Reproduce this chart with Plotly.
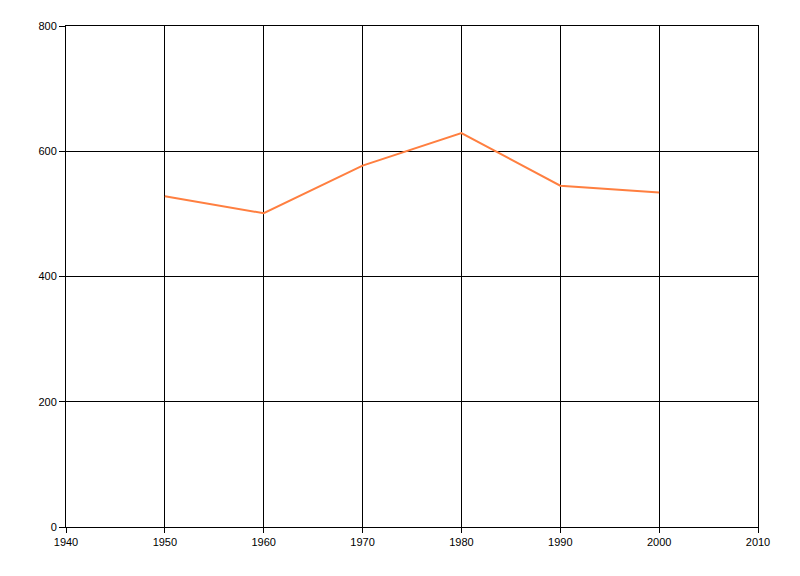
import plotly.graph_objects as go

years = [1950, 1960, 1970, 1980, 1990, 2000]
values = [528, 501, 577, 629, 545, 534]
x_ticks = [1940, 1950, 1960, 1970, 1980, 1990, 2000, 2010]
y_ticks = [0, 200, 400, 600, 800]

fig = go.Figure()
fig.add_trace(go.Scatter(
    x=years, y=values, mode="lines",
    line=dict(color="#FF7F40", width=2),
    showlegend=False,
))

fig.update_layout(
    width=800, height=576,
    margin=dict(l=58, r=50, t=18, b=57),
    paper_bgcolor="white", plot_bgcolor="white",
    font=dict(family="Liberation Sans, Arial, sans-serif", size=11, color="black"),
)
fig.update_xaxes(
    range=[1940, 2010], tickvals=x_ticks, ticktext=[str(v) for v in x_ticks],
    showgrid=True, gridcolor="black", gridwidth=1,
    showline=True, linecolor="black", linewidth=1, mirror=True,
    ticks="outside", ticklen=5, tickcolor="black", zeroline=False,
)
fig.update_yaxes(
    range=[0, 800], tickvals=y_ticks, ticktext=[str(v) for v in y_ticks],
    showgrid=True, gridcolor="black", gridwidth=1,
    showline=True, linecolor="black", linewidth=1, mirror=True,
    ticks="outside", ticklen=6, tickcolor="black", zeroline=False,
)

fig.write_html("out.html")
